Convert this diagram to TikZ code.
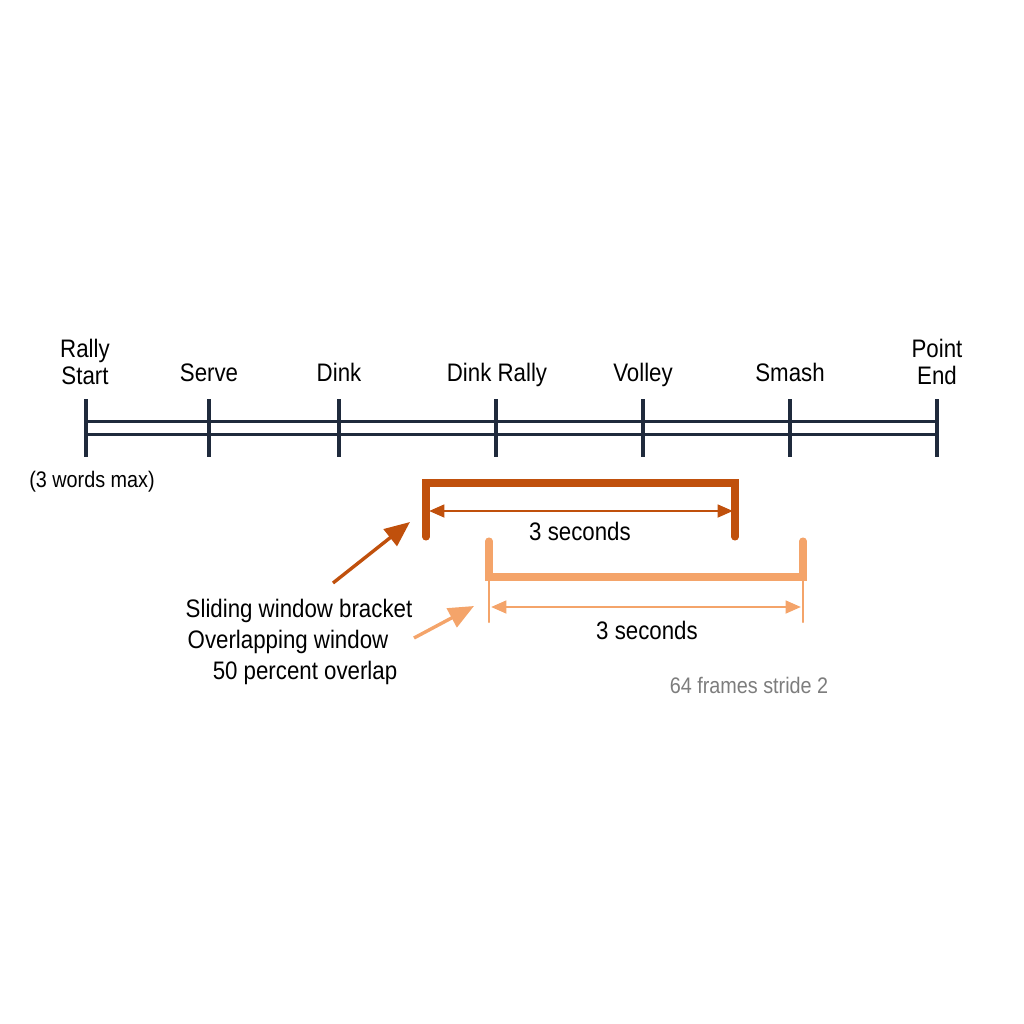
\documentclass[tikz,border=0pt]{standalone}
\usepackage{fontspec}
\setmainfont{Liberation Sans}[FakeStretch=0.88]
\usetikzlibrary{arrows.meta}
\definecolor{rallynavy}{RGB}{31,42,60}
\definecolor{windowrust}{RGB}{192,80,12}
\definecolor{windowpeach}{RGB}{244,164,106}
\definecolor{notegrey}{RGB}{125,125,125}
\tikzset{track/.style={line width=2.4pt, color=rallynavy}}
\tikzset{tickmark/.style={line width=2.4pt, color=rallynavy}}
\tikzset{event/.style={font=\fontsize{18}{19}\selectfont, align=center, inner sep=0pt}}
\tikzset{word/.style={font=\fontsize{18}{19}\selectfont, anchor=base, inner sep=0pt}}
\tikzset{note/.style={font=\fontsize{16}{18}\selectfont, anchor=base, inner sep=0pt}}
\tikzset{rustbar/.style={line width=5pt, color=windowrust, line cap=round}}
\tikzset{peachbar/.style={line width=5pt, color=windowpeach, line cap=round}}
\tikzset{rustspan/.style={line width=2pt, color=windowrust, {Triangle[length=11pt,width=9pt]}-{Triangle[length=11pt,width=9pt]}}}
\tikzset{peachspan/.style={line width=2pt, color=windowpeach, {Triangle[length=11pt,width=9pt]}-{Triangle[length=11pt,width=9pt]}}}
\tikzset{pointer/.style={line width=2.4pt, -{Triangle[length=18pt,width=15pt]}}}

\begin{document}
\begin{tikzpicture}[x=0.025cm, y=-0.025cm]%{{{
        \useasboundingbox (0,0) rectangle (1024,1024);

        % timeline
        \coordinate (Ta) at (86, 428);
        \coordinate (Tb) at (209, 428);
        \coordinate (Tc) at (339, 428);
        \coordinate (Td) at (496, 428);
        \coordinate (Te) at (643, 428);
        \coordinate (Tf) at (790, 428);
        \coordinate (Tg) at (937, 428);

        \draw [track] ([yshift=0.16cm]Ta) -- ([yshift=0.16cm]Tg);
        \draw [track] ([yshift=-0.16cm]Ta) -- ([yshift=-0.16cm]Tg);
        \draw [tickmark] (86, 399) -- (86, 457);
        \draw [tickmark] (209, 399) -- (209, 457);
        \draw [tickmark] (339, 399) -- (339, 457);
        \draw [tickmark] (496, 399) -- (496, 457);
        \draw [tickmark] (643, 399) -- (643, 457);
        \draw [tickmark] (790, 399) -- (790, 457);
        \draw [tickmark] (937, 399) -- (937, 457);

        \node[event] (La) at (85, 362) {Rally\\Start};
        \node[word] (Lb) at (209, 381) {Serve};
        \node[word] (Lc) at (339, 381) {Dink};
        \node[word] (Ld) at (497, 381) {Dink Rally};
        \node[word] (Le) at (643, 381) {Volley};
        \node[word] (Lf) at (790, 381) {Smash};
        \node[event] (Lg) at (937, 362) {Point\\End};
        \node[note] (Hint) at (92, 487) {(3 words max)};

        % first window
        \draw [rustbar] (426, 537) -- (426, 483) -- (735, 483) -- (735, 537);
        \coordinate (Ra) at (429, 511);
        \coordinate (Rb) at (733, 511);
        \draw [rustspan] (Ra) -- (Rb);
        \node[word] (Rlabel) at (580, 540) {3 seconds};

        % second window
        \draw [peachbar] (489, 541) -- (489, 577) -- (803, 577) -- (803, 541);
        \draw [line width=1.5pt, color=windowpeach, line cap=round] (489, 577) -- (489, 622);
        \draw [line width=1.5pt, color=windowpeach, line cap=round] (803, 577) -- (803, 622);
        \coordinate (Pa) at (491, 607);
        \coordinate (Pb) at (801, 607);
        \draw [peachspan] (Pa) -- (Pb);
        \node[word] (Plabel) at (647, 639) {3 seconds};
        \node[note, color=notegrey] (Frames) at (749, 693) {64 frames stride 2};

        % captions
        \node[word] (Ca) at (299, 617) {Sliding window bracket};
        \node[word] (Cb) at (288, 648) {Overlapping window};
        \node[word] (Cc) at (305, 679) {50 percent overlap};

        \coordinate (Qa) at (333, 583);
        \coordinate (Qb) at (410, 522);
        \coordinate (Qc) at (414, 638);
        \coordinate (Qd) at (474, 606);
        \draw [pointer, color=windowrust] (Qa) -- (Qb);
        \draw [pointer, color=windowpeach] (Qc) -- (Qd);
\end{tikzpicture}
\end{document}
